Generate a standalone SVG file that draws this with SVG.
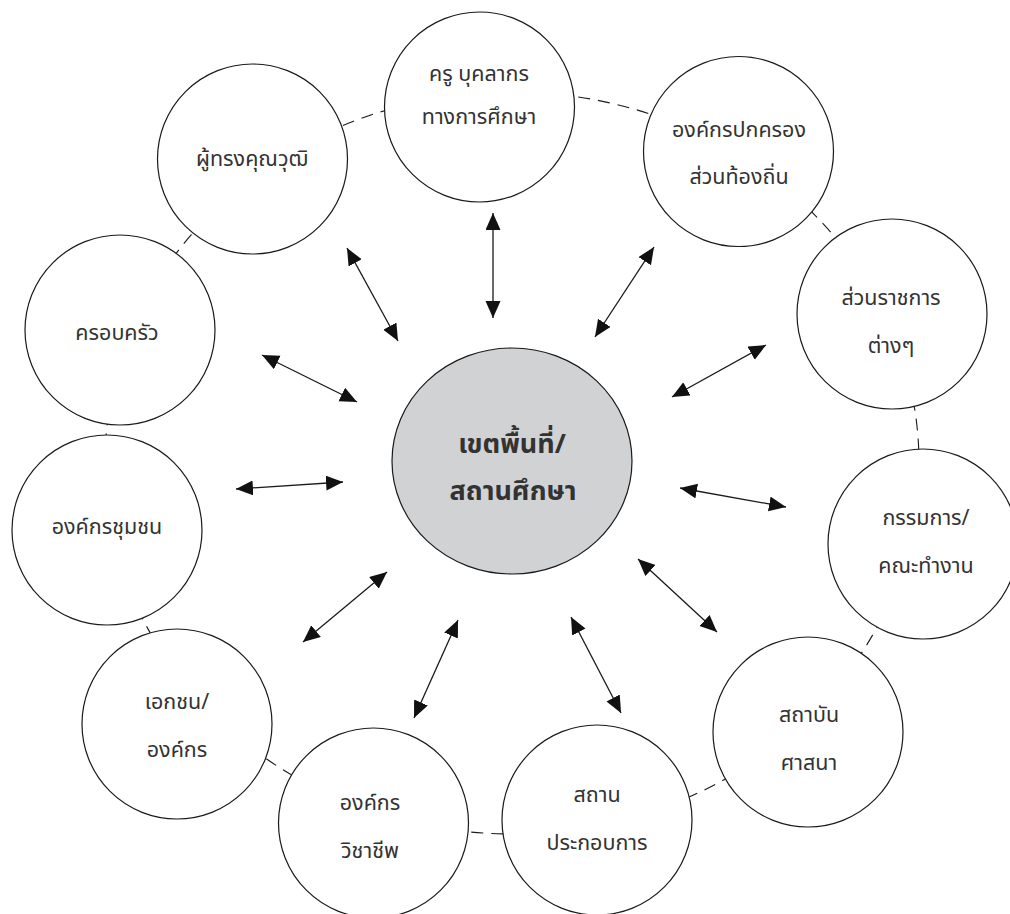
<svg xmlns="http://www.w3.org/2000/svg" width="1010" height="914" viewBox="0 0 1010 914">
  <style>
    .node { fill: #ffffff; stroke: #1a1a1a; stroke-width: 1.2; }
    .hub { fill: #d1d2d4; stroke: #1a1a1a; stroke-width: 1.2; }
    .ring { fill: none; stroke: #1a1a1a; stroke-width: 1.1; stroke-dasharray: 12 8; }
    .link { stroke: #1a1a1a; stroke-width: 1.3; marker-start: url(#ah); marker-end: url(#ah); }
    .lbl { font-family: "Noto Sans Thai", "Noto Sans", "DejaVu Sans", sans-serif; font-size: 21.5px; fill: #333333; text-anchor: middle; }
    .ctr { font-family: "Noto Sans Thai", "Noto Sans", "DejaVu Sans", sans-serif; font-size: 27px; font-weight: bold; fill: #333333; text-anchor: middle; }
  </style>
  <defs>
    <marker id="ah" markerUnits="userSpaceOnUse" markerWidth="18" markerHeight="16" refX="17" refY="7.5" orient="auto-start-reverse">
      <path d="M0,0 L17,7.5 L0,15 z" fill="#111111"/>
    </marker>
  </defs>

  <rect width="1010" height="914" fill="#ffffff"/>

  <!-- dashed ring joining the outer partners -->
  <ellipse class="ring" cx="512" cy="463" rx="407" ry="371"/>

  <!-- two-way links between the hub and each partner -->
  <g id="connectors">
    <line class="link" x1="347" y1="248" x2="398" y2="341"/>
    <line class="link" x1="493" y1="213" x2="493" y2="318"/>
    <line class="link" x1="262" y1="355" x2="357" y2="402"/>
    <line class="link" x1="654" y1="247" x2="595" y2="337"/>
    <line class="link" x1="766" y1="345" x2="672" y2="397"/>
    <line class="link" x1="236" y1="489" x2="343" y2="482"/>
    <line class="link" x1="387" y1="572" x2="303" y2="642"/>
    <line class="link" x1="458" y1="620" x2="414" y2="718"/>
    <line class="link" x1="680" y1="488" x2="786" y2="507"/>
    <line class="link" x1="638" y1="559" x2="717" y2="632"/>
    <line class="link" x1="571" y1="617" x2="621" y2="713"/>
  </g>

  <g id="hub">
    <ellipse class="hub" cx="512" cy="461" rx="120" ry="113"/>
    <text class="ctr" x="512" y="453">เขตพื้นที่/</text>
    <text class="ctr" x="513" y="500">สถานศึกษา</text>
  </g>

  <g id="teachers">
    <circle class="node" cx="479.5" cy="107" r="95"/>
    <text class="lbl" x="479" y="81">ครู บุคลากร</text>
    <text class="lbl" x="479" y="124">ทางการศึกษา</text>
  </g>

  <g id="local-government">
    <circle class="node" cx="738.5" cy="151.5" r="95"/>
    <text class="lbl" x="739" y="137">องค์กรปกครอง</text>
    <text class="lbl" x="739" y="184">ส่วนท้องถิ่น</text>
  </g>

  <g id="government-agencies">
    <circle class="node" cx="892" cy="314" r="95"/>
    <text class="lbl" x="891" y="305">ส่วนราชการ</text>
    <text class="lbl" x="891" y="353">ต่างๆ</text>
  </g>

  <g id="committees">
    <circle class="node" cx="923" cy="544" r="95"/>
    <text class="lbl" x="926" y="525">กรรมการ/</text>
    <text class="lbl" x="926" y="573">คณะทำงาน</text>
  </g>

  <g id="religious-institutions">
    <circle class="node" cx="808" cy="732" r="95"/>
    <text class="lbl" x="809" y="722">สถาบัน</text>
    <text class="lbl" x="809" y="770">ศาสนา</text>
  </g>

  <g id="enterprises">
    <circle class="node" cx="597" cy="820" r="95"/>
    <text class="lbl" x="597" y="802">สถาน</text>
    <text class="lbl" x="597" y="850">ประกอบการ</text>
  </g>

  <g id="professional-bodies">
    <circle class="node" cx="373.5" cy="823" r="95"/>
    <text class="lbl" x="370" y="810">องค์กร</text>
    <text class="lbl" x="370" y="858">วิชาชีพ</text>
  </g>

  <g id="private-sector">
    <circle class="node" cx="177" cy="724" r="95"/>
    <text class="lbl" x="177" y="709">เอกชน/</text>
    <text class="lbl" x="177" y="757">องค์กร</text>
  </g>

  <g id="community-organisations">
    <circle class="node" cx="107" cy="530" r="95"/>
    <text class="lbl" x="107" y="534">องค์กรชุมชน</text>
  </g>

  <g id="family">
    <circle class="node" cx="120" cy="330" r="95"/>
    <text class="lbl" x="117" y="340">ครอบครัว</text>
  </g>

  <g id="experts">
    <circle class="node" cx="252.5" cy="159" r="95"/>
    <text class="lbl" x="252" y="166">ผู้ทรงคุณวุฒิ</text>
  </g>
</svg>
